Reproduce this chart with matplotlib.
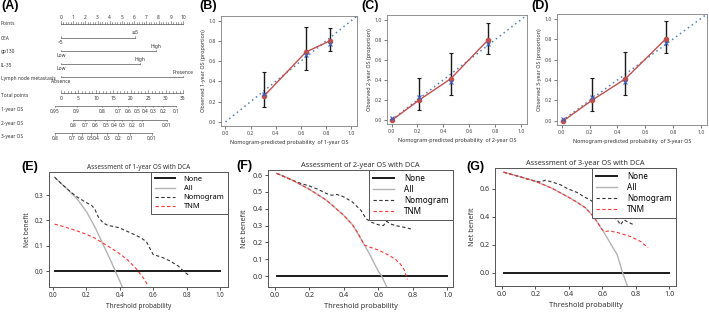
import matplotlib
matplotlib.use('Agg')
import matplotlib.pyplot as plt
import numpy as np
from matplotlib.lines import Line2D

plt.rcParams['font.family'] = ['Noto Sans', 'DejaVu Sans']

W, H = 709, 313
fig = plt.figure(figsize=(W / 100, H / 100), dpi=100)


def rect(l, t, r, b):
    return [l / W, 1 - b / H, (r - l) / W, (b - t) / H]


# ---------------- data: nomogram (A) ----------------
nomo_vars = ['CEA', 'gp130', 'IL-35', 'Lymph node metastasis']
nomo_low = ['<5', 'Low', 'Low', 'Absence']
nomo_high = ['≥5', 'High', 'High', 'Presence']
nomo_pts = [6.07, 7.76, 6.48, 10.0]
points_ticks = list(range(0, 11))
total_ticks = [0, 5, 10, 15, 20, 25, 30, 35]
os_names = ['1-year OS', '2-year OS', '3-year OS']
os1_labels = ['0.95', '0.9', '0.8', '0.7', '0.6', '0.5', '0.4', '0.3', '0.2', '0.1']
os1_tp = [-1.7, 4.5, 11.9, 16.4, 19.3, 21.9, 24.1, 26.3, 29.4, 33.0]
os2_labels = ['0.8', '0.7', '0.6', '0.5', '0.4', '0.3', '0.2', '0.1', '0.01']
os2_tp = [3.4, 6.9, 9.8, 13.1, 15.3, 17.4, 20.3, 23.2, 30.3]
os3_labels = ['0.8', '0.7', '0.6', '0.5', '0.4', '0.3', '0.2', '0.1', '0.01']
os3_tp = [-1.7, 3.1, 5.9, 8.5, 10.2, 13.3, 16.4, 19.8, 26.0]

# ---------------- data: calibration (B-D) ----------------
cal_years = ['1-year', '2-year', '3-year']
b_pred = [0.31, 0.64, 0.83]
b_obs = [0.26, 0.69, 0.80]
b_lo = [0.15, 0.51, 0.70]
b_hi = [0.49, 0.94, 0.93]
b_bc = [0.28, 0.66, 0.77]

c_pred = [0.005, 0.215, 0.456, 0.747]
c_obs = [0.0, 0.20, 0.41, 0.80]
c_lo = [np.nan, 0.10, 0.25, 0.66]
c_hi = [np.nan, 0.42, 0.67, 0.97]
c_bc = [0.02, 0.23, 0.38, 0.76]

d_pred = [0.01, 0.215, 0.456, 0.747]
d_obs = [0.0, 0.20, 0.41, 0.80]
d_lo = [np.nan, 0.10, 0.25, 0.66]
d_hi = [np.nan, 0.42, 0.67, 0.98]
d_bc = [0.02, 0.23, 0.38, 0.76]

# ---------------- data: DCA (E-G) ----------------
e_all_x = [0.01, 0.05, 0.10, 0.15, 0.20, 0.25, 0.30, 0.35, 0.40, 0.42]
e_all_y = [0.37, 0.345, 0.315, 0.28, 0.235, 0.175, 0.105, 0.035, -0.04, -0.07]
e_nom_x = [0.01, 0.05, 0.10, 0.15, 0.20, 0.23, 0.25, 0.27, 0.30, 0.33, 0.37, 0.40,
           0.45, 0.50, 0.53, 0.56, 0.58, 0.60, 0.65, 0.70, 0.75, 0.78, 0.81]
e_nom_y = [0.37, 0.345, 0.315, 0.29, 0.27, 0.26, 0.245, 0.215, 0.19, 0.18, 0.175, 0.17,
           0.155, 0.14, 0.13, 0.115, 0.09, 0.065, 0.055, 0.04, 0.02, 0.0, -0.015]
e_tnm_x = [0.01, 0.05, 0.10, 0.15, 0.20, 0.25, 0.30, 0.35, 0.40, 0.45, 0.50, 0.53, 0.55, 0.57]
e_tnm_y = [0.185, 0.178, 0.168, 0.157, 0.145, 0.13, 0.11, 0.09, 0.068, 0.042, 0.008, -0.018, -0.035, -0.06]

f_all_x = [0.01, 0.10, 0.20, 0.30, 0.40, 0.45, 0.50, 0.55, 0.60, 0.62, 0.65]
f_all_y = [0.61, 0.57, 0.515, 0.45, 0.36, 0.305, 0.22, 0.13, 0.03, 0.0, -0.065]
f_nom_x = [0.01, 0.10, 0.15, 0.20, 0.25, 0.30, 0.33, 0.36, 0.40, 0.45, 0.50, 0.53,
           0.56, 0.60, 0.63, 0.65, 0.67, 0.70, 0.75, 0.79]
f_nom_y = [0.61, 0.57, 0.55, 0.535, 0.515, 0.49, 0.48, 0.485, 0.47, 0.44, 0.39, 0.34,
           0.32, 0.305, 0.30, 0.325, 0.31, 0.30, 0.29, 0.28]
f_tnm_x = [0.01, 0.10, 0.20, 0.30, 0.40, 0.45, 0.48, 0.50, 0.52, 0.55, 0.60, 0.65,
           0.70, 0.73, 0.75, 0.77]
f_tnm_y = [0.61, 0.57, 0.515, 0.45, 0.36, 0.305, 0.26, 0.22, 0.185, 0.172, 0.155, 0.13,
           0.10, 0.07, 0.04, -0.02]

g_all_x = [0.01, 0.10, 0.20, 0.30, 0.40, 0.45, 0.50, 0.55, 0.60, 0.65, 0.69, 0.72, 0.75]
g_all_y = [0.72, 0.69, 0.655, 0.605, 0.54, 0.505, 0.465, 0.40, 0.31, 0.21, 0.13, 0.01, -0.09]
g_nom_x = [0.01, 0.10, 0.20, 0.23, 0.26, 0.30, 0.35, 0.39, 0.45, 0.49, 0.53, 0.57,
           0.61, 0.65, 0.69, 0.71, 0.73, 0.77, 0.79]
g_nom_y = [0.72, 0.69, 0.655, 0.65, 0.663, 0.65, 0.63, 0.604, 0.575, 0.545, 0.52, 0.486,
           0.45, 0.415, 0.379, 0.344, 0.379, 0.355, 0.344]
g_tnm_x = [0.01, 0.10, 0.20, 0.30, 0.40, 0.45, 0.50, 0.55, 0.60, 0.615, 0.64, 0.69,
           0.77, 0.83, 0.875]
g_tnm_y = [0.72, 0.69, 0.655, 0.605, 0.54, 0.505, 0.465, 0.40, 0.31, 0.296, 0.30, 0.29,
           0.26, 0.225, 0.18]

dca_years = ['1-year', '2-year', '3-year']

TXT = '#333333'
LN = '#555555'

# ================= Panel A: nomogram =================
axA = fig.add_axes(rect(0, 0, 230, 150))
px_per_pt = 12.2
axA.set_xlim(-61 / px_per_pt, (230 - 61) / px_per_pt)
axA.set_ylim(150, 0)
axA.axis('off')
fs_n = 3.5
lab_x = -61 / px_per_pt + 0.05


def tp2x(v):
    return np.asarray(v, dtype=float) * 10.0 / 35.0


# Points row
yP = 23.5
axA.text(lab_x, yP, 'Points', fontsize=fs_n, color=TXT, va='center', ha='left')
axA.plot([0, 10], [yP, yP], color=LN, lw=0.5)
for v in np.arange(0, 10.001, 0.2):
    L = 2.2 if abs(v - round(v)) < 1e-6 else 1.1
    axA.plot([v, v], [yP, yP - L], color=LN, lw=0.4)
for v in points_ticks:
    axA.text(v, 17.5, str(v), fontsize=fs_n, color=TXT, ha='center', va='center')

# Variable rows
var_y = [37.5, 51, 64, 77]
var_lab_y = [39, 52, 65.5, 78.5]
for name, lo, hi, p, y, ly in zip(nomo_vars, nomo_low, nomo_high, nomo_pts, var_y, var_lab_y):
    axA.text(lab_x, ly, name, fontsize=fs_n, color=TXT, va='center', ha='left')
    axA.plot([0, p], [y, y], color=LN, lw=0.5)
    axA.plot([0, 0], [y, y - 1.5], color=LN, lw=0.4)
    axA.plot([p, p], [y, y - 1.5], color=LN, lw=0.4)
    axA.text(0, y + 4.5, lo, fontsize=fs_n, color=TXT, ha='center', va='center')
    axA.text(p, y - 4.8, hi, fontsize=fs_n, color=TXT, ha='center', va='center')

# Total points row
yT = 92.5
axA.text(lab_x, 95.5, 'Total points', fontsize=fs_n, color=TXT, va='center', ha='left')
axA.plot([0, 10], [yT, yT], color=LN, lw=0.5)
for v in range(0, 36):
    L = 2.2 if v % 5 == 0 else 1.1
    axA.plot([tp2x(v), tp2x(v)], [yT, yT - L], color=LN, lw=0.4)
for v in total_ticks:
    axA.text(tp2x(v), 99, str(v), fontsize=fs_n, color=TXT, ha='center', va='center')

# Survival rows
os_y = [105.5, 119.5, 133]
for name, labs, tps, y in zip(os_names, [os1_labels, os2_labels, os3_labels],
                              [os1_tp, os2_tp, os3_tp], os_y):
    xs = tp2x(tps)
    axA.text(lab_x, y + 3.5, name, fontsize=fs_n, color=TXT, va='center', ha='left')
    axA.plot([xs.min(), xs.max()], [y, y], color=LN, lw=0.5)
    for xv, lb in zip(xs, labs):
        axA.plot([xv, xv], [y, y + 1.8], color=LN, lw=0.4)
        axA.text(xv, y + 6, lb, fontsize=fs_n, color=TXT, ha='center', va='center')

# ================= Panels B-D: calibration =================
cal_rects = [(221, 16, 357, 126), (387, 15, 527, 124), (557, 14, 707, 125)]
cal_sets = [(b_pred, b_obs, b_lo, b_hi, b_bc), (c_pred, c_obs, c_lo, c_hi, c_bc),
            (d_pred, d_obs, d_lo, d_hi, d_bc)]
RED = '#c0504d'
BLUE = '#3b5fc0'
DIAG = '#4f81bd'
for (l, t, r, b), (pr, ob, lo, hi, bc), yr in zip(cal_rects, cal_sets, cal_years):
    ax = fig.add_axes(rect(l, t, r, b))
    ax.set_xlim(-0.035, 1.045)
    ax.set_ylim(-0.04, 1.045)
    ax.plot([0, 1.1], [0, 1.1], linestyle=(0, (1, 2.2)), color=DIAG, lw=1.1, zorder=1)
    pr = np.array(pr); ob = np.array(ob); lo = np.array(lo); hi = np.array(hi)
    m = ~np.isnan(lo)
    ax.errorbar(pr[m], ob[m], yerr=[ob[m] - lo[m], hi[m] - ob[m]], fmt='none',
                ecolor='#1a1a1a', elinewidth=1.0, capsize=1.6, capthick=0.8, zorder=2)
    ax.plot(pr, ob, color=RED, lw=1.0, zorder=3)
    ax.plot(pr, ob, 'o', color=RED, ms=3, zorder=4)
    ax.plot(pr, bc, 'x', color=BLUE, ms=3, mew=0.8, zorder=5)
    ax.set_xticks([0, 0.2, 0.4, 0.6, 0.8, 1.0])
    ax.set_yticks([0, 0.2, 0.4, 0.6, 0.8, 1.0])
    ax.xaxis.set_major_formatter(matplotlib.ticker.FormatStrFormatter('%.1f'))
    ax.yaxis.set_major_formatter(matplotlib.ticker.FormatStrFormatter('%.1f'))
    ax.tick_params(labelsize=3.7, length=2, width=0.5, pad=1.5, colors='#444444')
    for s in ax.spines.values():
        s.set_color('#808080')
        s.set_linewidth(0.6)
    ax.set_xlabel('Nomogram-predicted probability  of %s OS' % yr, fontsize=3.9,
                  color=TXT, labelpad=3)
    ax.set_ylabel('Observed %s OS (proportion)' % yr, fontsize=3.9, color=TXT, labelpad=2)

# ================= Panels E-G: DCA =================
dca_rects = [(49, 172, 228, 287), (268, 170, 453, 287), (495, 168, 676, 286)]
dca_xlims = [(-0.024, 1.048), (-0.041, 1.035), (-0.042, 1.042)]
dca_ylims = [(-0.063, 0.391), (-0.065, 0.63), (-0.093, 0.75)]
dca_yticks = [[0, 0.1, 0.2, 0.3], [0, 0.1, 0.2, 0.3, 0.4, 0.5, 0.6], [0, 0.2, 0.4, 0.6]]
dca_fs = [(4.5, 4.7, 4.6, 5.4), (5.2, 5.3, 5.3, 5.9), (5.2, 5.3, 5.3, 5.9)]
dca_sets = [(e_all_x, e_all_y, e_nom_x, e_nom_y, e_tnm_x, e_tnm_y),
            (f_all_x, f_all_y, f_nom_x, f_nom_y, f_tnm_x, f_tnm_y),
            (g_all_x, g_all_y, g_nom_x, g_nom_y, g_tnm_x, g_tnm_y)]
for (l, t, r, b), xl, yl, yt, fsz, ds, yr in zip(dca_rects, dca_xlims, dca_ylims,
                                                dca_yticks, dca_fs, dca_sets, dca_years):
    ax = fig.add_axes(rect(l, t, r, b))
    ax.set_xlim(*xl)
    ax.set_ylim(*yl)
    ax.plot([0.01, 1.0], [0, 0], color='#1a1a1a', lw=1.4, label='None')
    ax.plot(ds[0], ds[1], color='#b3b3b3', lw=1.0, label='All')
    ax.plot(ds[2], ds[3], color='#333333', lw=0.8, ls=(0, (3, 2.2)), label='Nomogram')
    ax.plot(ds[4], ds[5], color='#ff3333', lw=0.8, ls=(0, (3, 2.2)), label='TNM')
    ax.set_xticks([0, 0.2, 0.4, 0.6, 0.8, 1.0])
    ax.set_yticks(yt)
    ax.xaxis.set_major_formatter(matplotlib.ticker.FormatStrFormatter('%.1f'))
    ax.yaxis.set_major_formatter(matplotlib.ticker.FormatStrFormatter('%.1f'))
    ax.tick_params(labelsize=fsz[0], length=2.2, width=0.6, pad=1.5, colors='#333333')
    for s in ax.spines.values():
        s.set_color('#555555')
        s.set_linewidth(0.7)
    ax.set_xlabel('Threshold probability', fontsize=fsz[1], color=TXT, labelpad=2.5)
    ax.set_ylabel('Net benefit', fontsize=fsz[1], color=TXT, labelpad=3)
    ax.set_title('Assessment of %s OS with DCA' % yr, fontsize=fsz[2], color=TXT, pad=2.5)
    leg = ax.legend(loc='upper right', fontsize=fsz[3], frameon=True, fancybox=False,
                    borderaxespad=0, handlelength=2.6, handletextpad=1.2,
                    labelspacing=0.25, borderpad=0.5)
    leg.get_frame().set_edgecolor('#555555')
    leg.get_frame().set_linewidth(0.7)
    leg.get_frame().set_alpha(1)

# ================= Panel labels =================
panel_labels = [('(A)', 1, 6), ('(B)', 199, 6), ('(C)', 361, 6), ('(D)', 531, 6),
                ('(E)', 21, 167), ('(F)', 236, 166), ('(G)', 466, 167)]
for txt, x, y in panel_labels:
    fig.text(x / W, 1 - y / H, txt, fontsize=9, fontweight='bold',
             family=['Liberation Sans', 'DejaVu Sans'], ha='left', va='center')

fig.savefig('out.png', dpi=100)
